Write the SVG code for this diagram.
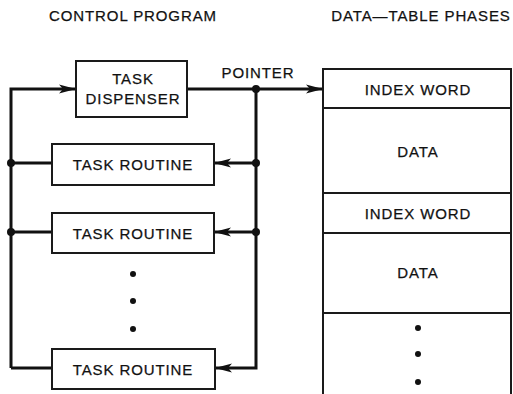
<svg xmlns="http://www.w3.org/2000/svg" width="513" height="394" viewBox="0 0 513 394">
<defs>
<style>
text{font-family:"Liberation Sans",Arial,sans-serif;font-size:15px;fill:#111;letter-spacing:0.9px;text-anchor:middle;stroke:#111;stroke-width:0.25}
.box{fill:#fff;stroke:#1a1a1a;stroke-width:2}
.wire{fill:none;stroke:#111;stroke-width:3}
.dot{fill:#111}
.tbl{fill:none;stroke:#1a1a1a;stroke-width:2}
</style>
<marker id="arr" markerUnits="userSpaceOnUse" markerWidth="18" markerHeight="12" viewBox="0 0 18 12" refX="17" refY="6" orient="auto">
<path d="M0,1.5 L17,6 L0,10.5 L4,6 Z" fill="#111"/>
</marker>
</defs>

<text x="133" y="21">CONTROL PROGRAM</text>
<text x="421" y="21">DATA—TABLE PHASES</text>

<g id="connectors">
<path class="wire" d="M11,368 V89 H76" marker-end="url(#arr)"/>
<path class="wire" d="M187,89 H323" marker-end="url(#arr)"/>
<path class="wire" d="M256,89 V368 H215" marker-end="url(#arr)"/>
<path class="wire" d="M256,163 H214" marker-end="url(#arr)"/>
<path class="wire" d="M256,232 H214" marker-end="url(#arr)"/>
<path class="wire" d="M52,163 H11"/>
<path class="wire" d="M52,232 H11"/>
<path class="wire" d="M52,368 H11"/>
<circle class="dot" cx="256" cy="89" r="4"/>
<circle class="dot" cx="256" cy="163" r="4"/>
<circle class="dot" cx="256" cy="232" r="4"/>
<circle class="dot" cx="11" cy="163" r="4"/>
<circle class="dot" cx="11" cy="232" r="4"/>
<text x="258" y="78">POINTER</text>
</g>

<g id="task-dispenser">
<rect class="box" x="76" y="61" width="111" height="56"/>
<text x="133" y="84">TASK</text>
<text x="133" y="104">DISPENSER</text>
</g>

<g id="task-routine-1">
<rect class="box" x="52" y="144" width="162" height="41"/>
<text x="133" y="170">TASK ROUTINE</text>
</g>

<g id="task-routine-2">
<rect class="box" x="52" y="213" width="162" height="40"/>
<text x="133" y="239">TASK ROUTINE</text>
</g>

<g id="ellipsis-left">
<circle class="dot" cx="133" cy="274" r="3"/>
<circle class="dot" cx="133" cy="301" r="3"/>
<circle class="dot" cx="133" cy="329" r="3"/>
</g>

<g id="task-routine-3">
<rect class="box" x="52" y="349" width="163" height="40"/>
<text x="133" y="375">TASK ROUTINE</text>
</g>

<g id="data-table">
<path class="tbl" d="M323,394 V69 H511 V394 M323,108 H511 M323,193 H511 M323,233 H511 M323,313 H511"/>
<text x="418" y="95">INDEX WORD</text>
<text x="418" y="157">DATA</text>
<text x="418" y="219">INDEX WORD</text>
<text x="418" y="278">DATA</text>
<circle class="dot" cx="418" cy="328" r="3"/>
<circle class="dot" cx="418" cy="354" r="3"/>
<circle class="dot" cx="418" cy="382" r="3"/>
</g>
</svg>
